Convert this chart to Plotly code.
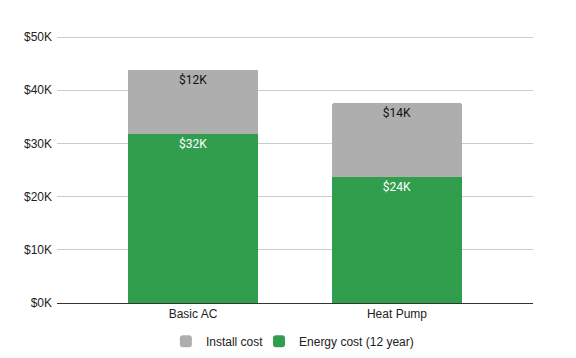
import plotly.graph_objects as go

categories = ["Basic AC", "Heat Pump"]
energy_cost_k = [31.8, 23.6]
install_cost_k = [12.1, 14.0]
series_names = ["Energy cost (12 year)", "Install cost"]
tick_vals = [0, 10, 20, 30, 40, 50]
tick_text = ["$0K", "$10K", "$20K", "$30K", "$40K", "$50K"]

GREEN = "#319E4E"
GRAY = "#AEAEAE"

fig = go.Figure()
fig.add_trace(go.Bar(
    x=categories, y=energy_cost_k, name=series_names[0], legend="legend2",
    marker=dict(color=GREEN, line=dict(width=0)),
    texttemplate="$%{y:.0f}K", textposition="inside", insidetextanchor="end",
    textfont=dict(family="Roboto, Arial, sans-serif", size=12, color="white"),
    hoverinfo="skip",
))
fig.add_trace(go.Bar(
    x=categories, y=install_cost_k, name=series_names[1], legend="legend",
    marker=dict(color=GRAY, line=dict(width=0)),
    texttemplate="$%{y:.0f}K", textposition="inside", insidetextanchor="end",
    textfont=dict(family="Roboto, Arial, sans-serif", size=12, color="#111111"),
    hoverinfo="skip",
))

legend_common = dict(orientation="h", xref="container", xanchor="left",
                     yref="container", y=0.047, yanchor="middle",
                     font=dict(size=12, color="#222222"), itemclick=False,
                     bgcolor="rgba(0,0,0,0)")

fig.update_layout(
    width=576, height=358,
    barmode="stack", bargap=0.36, barcornerradius=3,
    plot_bgcolor="white", paper_bgcolor="white",
    margin=dict(l=57, r=43, t=36, b=55, autoexpand=False),
    font=dict(family="Liberation Sans, Arial, sans-serif", size=12, color="#222222"),
    uniformtext=dict(mode="show", minsize=8),
    legend=dict(x=0.288, **legend_common),
    legend2=dict(x=0.4497, **legend_common),
    showlegend=True,
)
fig.update_xaxes(
    range=[-0.667, 1.667], showline=True, linecolor="#333333", linewidth=1,
    showgrid=False, ticks="", tickfont=dict(size=12, color="#222222"),
    automargin=False,
)
fig.update_yaxes(
    range=[0, 50.2], tickvals=tick_vals, ticktext=tick_text,
    showgrid=True, gridcolor="#CCCCCC", gridwidth=1, zeroline=False,
    tickfont=dict(size=12, color="#222222"), ticks="", ticklabelstandoff=4,
    automargin=False,
)

fig.write_html("out.html", config={"displayModeBar": False},
               post_script="document.body.style.margin='0';document.body.style.padding='0';")
